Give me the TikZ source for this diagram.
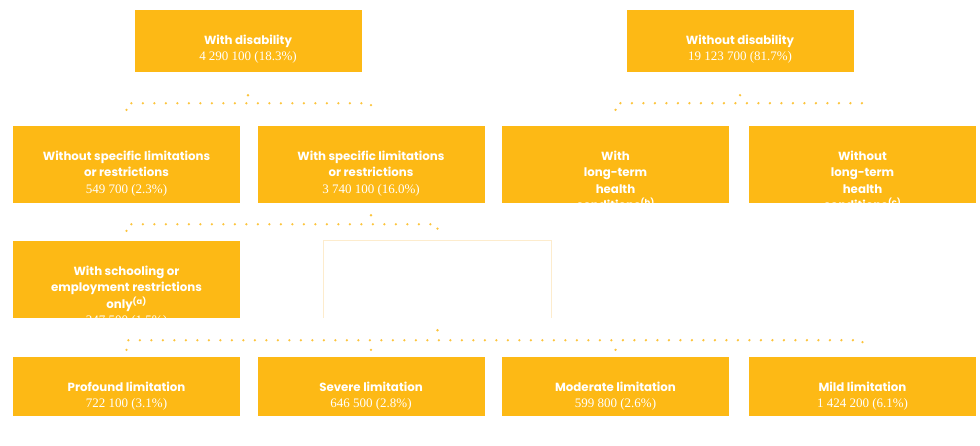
\documentclass[tikz,border=0pt]{standalone}
\usepackage{fontspec}
\setmainfont{Liberation Serif}
\newfontfamily\headfont{Poppins}
\usetikzlibrary{positioning}

\definecolor{boxorange}{RGB}{253,185,21}
\definecolor{dotorange}{RGB}{252,196,60}
\definecolor{paleorange}{RGB}{253,236,205}

% value line under the heading of a box
\newcommand{\boxvalue}[1]{{\rmfamily\mdseries\fontsize{13}{16.5}\selectfont #1}}
% heading and value, clipped to the box as in the source
\newcommand{\boxlabel}[2]{%
  \begin{scope}
    \clip (#1.south west) rectangle (#1.north east);
    \node[boxtxt, below=25pt of #1.north] (#1-txt) {#2};
  \end{scope}}

\begin{document}
\begin{tikzpicture}[x=1pt, y=1pt,
  box/.style={fill=boxorange, minimum width=227pt, inner sep=0pt},
  boxtxt/.style={white, align=center, inner sep=0pt,
    font=\headfont\bfseries\fontsize{11.8}{16.5}\selectfont},
  dotline/.style={dotorange, line width=2.6pt, line cap=round,
    dash pattern=on 0pt off 11.5pt}]

\useasboundingbox (0,0) rectangle (980,-445);

% first level
\node[box, minimum height=62pt] (dis)   at (248,-41) {};
\node[box, minimum height=62pt] (nodis) at (740,-41) {};

% second level
\node[box, minimum height=77pt] (nolim) at (126.5,-164.5) {};
\node[box, minimum height=77pt] (lim)   at (371,-164.5) {};
\node[box, minimum height=77pt] (ltc)   at (615.5,-164.5) {};
\node[box, minimum height=77pt] (noltc) at (862.5,-164.5) {};

% third level
\node[box, minimum height=77pt] (school) at (126.5,-279.5) {};
\node[box, minimum height=77pt, fill=none] (blank) at (437.5,-279.5) {};
\draw[paleorange, line width=1pt] (blank.south west) -- (blank.north west) -- (blank.north east) -- (blank.south east);

% severity
\node[box, minimum height=59pt] (prof) at (126.5,-386.5) {};
\node[box, minimum height=59pt] (sev)  at (371,-386.5) {};
\node[box, minimum height=59pt] (mod)  at (615.5,-386.5) {};
\node[box, minimum height=59pt] (mild) at (862.5,-386.5) {};

\boxlabel{dis}{With disability\\\boxvalue{4 290 100 (18.3\%)}}
\boxlabel{nodis}{Without disability\\\boxvalue{19 123 700 (81.7\%)}}
\boxlabel{nolim}{Without specific limitations\\or restrictions\\\boxvalue{549 700 (2.3\%)}}
\boxlabel{lim}{With specific limitations\\or restrictions\\\boxvalue{3 740 100 (16.0\%)}}
\boxlabel{ltc}{With\\long-term\\health\\conditions\textsuperscript{(b)}}
\boxlabel{noltc}{Without\\long-term\\health\\conditions\textsuperscript{(c)}}
\boxlabel{school}{With schooling or\\employment restrictions\\only\textsuperscript{(a)}\\\boxvalue{347 500 (1.5\%)}}
\boxlabel{prof}{Profound limitation\\\boxvalue{722 100 (3.1\%)}}
\boxlabel{sev}{Severe limitation\\\boxvalue{646 500 (2.8\%)}}
\boxlabel{mod}{Moderate limitation\\\boxvalue{599 800 (2.6\%)}}
\boxlabel{mild}{Mild limitation\\\boxvalue{1 424 200 (6.1\%)}}

% dotted connectors
\draw[dotline] (dis.south) ++(0,-23) -- ++(0,-8) coordinate (b1);
\draw[dotline] ([yshift=16pt]nolim.north) |- (b1) -| ([yshift=16pt]lim.north);

\draw[dotline] (nodis.south) ++(0,-23) -- ++(0,-8) coordinate (b2);
\draw[dotline] ([yshift=16pt]ltc.north) |- (b2) -| ([yshift=16pt]noltc.north);

\draw[dotline] (lim.south) ++(0,-12) -- ++(0,-9) coordinate (b3);
\draw[dotline] ([yshift=10pt]school.north) |- (b3) -| ([yshift=10pt]blank.north);

\draw[dotline] (blank.south) ++(0,-12) -- ++(0,-10) coordinate (b4);
\draw[dotline] ([yshift=7pt]prof.north) |- (b4) -| ([yshift=7pt]mild.north);
\draw[dotline] ([yshift=7pt]sev.north) -- (b4 -| sev.north);
\draw[dotline] ([yshift=7pt]mod.north) -- (b4 -| mod.north);
\end{tikzpicture}
\end{document}
